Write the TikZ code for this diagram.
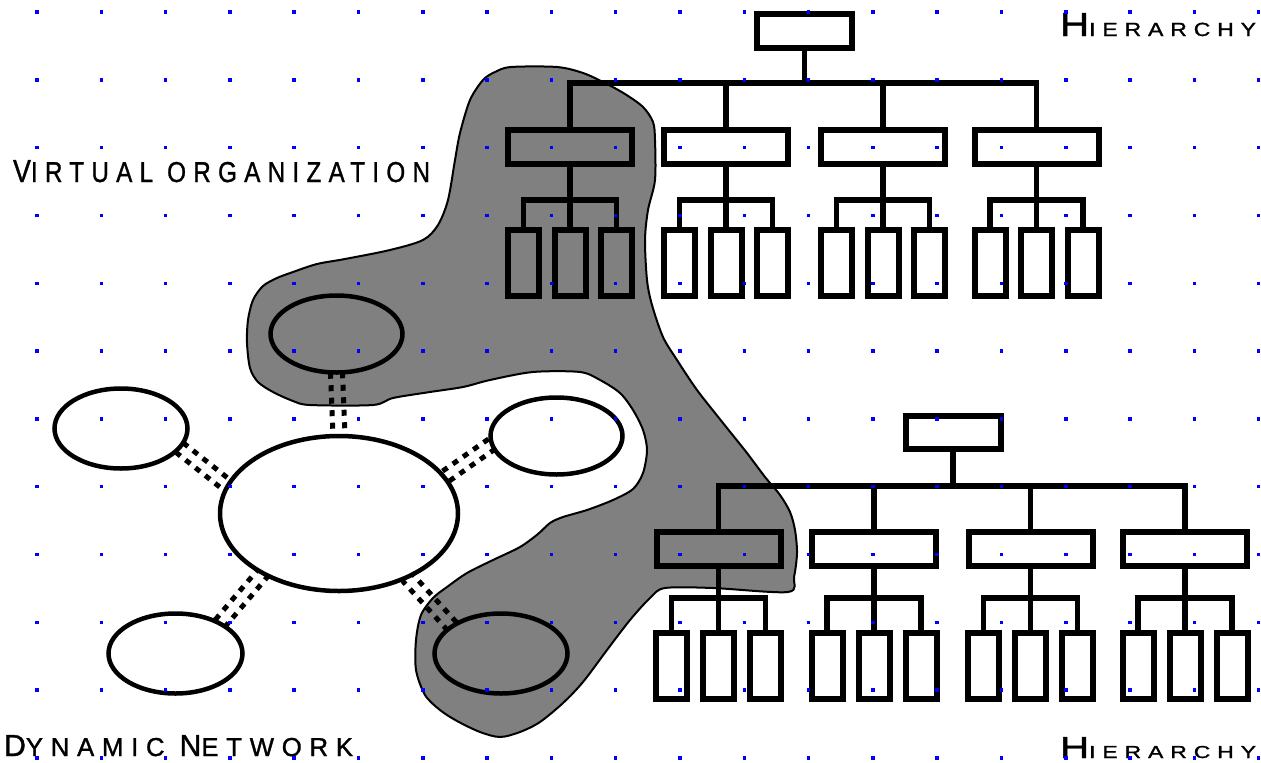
\documentclass[tikz,border=0pt]{standalone}
\usepackage{fontspec}
\setmainfont{Liberation Sans}
\newfontfamily\lblfont[LetterSpace=30,FakeBold=1.2]{Liberation Sans}
\usetikzlibrary{shapes.geometric,calc}
\definecolor{blobgray}{RGB}{128,128,128}
\definecolor{dotblue}{RGB}{0,0,255}
\newcommand\dblconn[2]{%
  \draw[dcon] ($(#1)!6pt!90:(#2)$) -- ($(#2)!6pt!-90:(#1)$);
  \draw[dcon] ($(#1)!6pt!-90:(#2)$) -- ($(#2)!6pt!90:(#1)$);}
\newcommand\szA{\fontsize{20}{20}\selectfont}
\tikzset{
  box/.style={draw, line width=6pt, rectangle, inner sep=0pt, outer sep=0pt},
  topbox/.style={box, minimum width=95pt, minimum height=34pt},
  midbox/.style={box, minimum width=124pt, minimum height=34pt},
  leafbox/.style={box, minimum width=31pt, minimum height=66pt},
  edge/.style={line width=5.5pt, line join=miter},
  ell/.style={ellipse, draw, line width=4.5pt, inner sep=0pt, outer sep=0pt},
  dcon/.style={line width=5pt, dash pattern=on 6pt off 6.5pt},
  blob/.style={fill=blobgray, draw=black, line width=2pt},
  lbl/.style={inner sep=0pt, outer sep=0pt, anchor=base west}
}
\begin{document}
\begin{tikzpicture}[x=1pt, y=-1pt]
\useasboundingbox (0,0) rectangle (1261,763);
\fill[white] (0,0) rectangle (1261,763);

% grey blob (virtual organization)
\draw[blob] plot[smooth cycle, tension=0.5] coordinates {
 (511,67) (557,67) (583,73) (605,83) (625,94) (643,107) (653,122) (655,140)
 (655,180) (648,210) (645,240) (647,280) (652,305) (663,337) (677,360)
 (697,390) (723,423) (747,453) (765,477) (780,495) (790,512) (795,530)
 (797,553) (794,577) (788,592) (713,588) (665,588) (650,598) (630,620)
 (607,650) (583,682) (563,703) (540,722) (520,732) (500,737) (480,732)
 (457,721) (440,710) (425,695) (416,670) (416,640) (421,615) (433,598)
 (447,587) (467,573) (493,560) (520,547) (538,534) (550,523) (563,517)
 (587,510) (613,500) (633,489) (643,473) (647,450) (643,430) (633,410)
 (620,393) (600,380) (580,372) (533,372) (490,380) (463,387) (430,392)
 (393,398) (373,405) (310,405) (293,401) (273,392) (258,382) (250,368)
 (247,343) (248,320) (253,300) (263,286) (277,278) (293,272) (317,264)
 (345,259) (390,250) (423,240) (438,225) (448,200) (455,160) (460,133)
 (470,100) (483,80) (495,72)};

% dynamic network
\node[ell, minimum width=132pt, minimum height=77pt] (E1) at (336.5,334) {};
\node[ell, minimum width=133pt, minimum height=80pt] (E2) at (121,428.5) {};
\node[ell, minimum width=238pt, minimum height=155pt] (C) at (339,513.5) {};
\node[ell, minimum width=132pt, minimum height=77pt] (E3) at (556.5,436) {};
\node[ell, minimum width=134pt, minimum height=80pt] (E5) at (175.5,653.5) {};
\node[ell, minimum width=133pt, minimum height=80pt] (E6) at (501,653.5) {};
\dblconn{E1.south}{C.north}
\dblconn{E2.342}{C.166}
\dblconn{E5.34}{C.218}
\dblconn{E3.187}{C.19}
\dblconn{E6.151}{C.317}

% top hierarchy
\node[topbox] (T1) at (804.5,31) {};
\coordinate (bar1) at (806,83);
\foreach \g/\x in {1/570,2/726,3/883,4/1036.5} {
  \node[midbox] (A\g) at (\x,147) {};
  \node[leafbox] (A\g-1) at (\x-46.5,263) {};
  \node[leafbox] (A\g-2) at (\x,263) {};
  \node[leafbox] (A\g-3) at (\x+46.5,263) {};
  \coordinate (sa\g) at (\x,200);
  \draw[edge] (A\g.south) -- (A\g-2.north);
  \draw[edge] (A\g-1.north) |- (sa\g) -| (A\g-3.north);
}
\draw[edge] (T1.south) -- (T1.south |- bar1);
\draw[edge] (A1.north) |- (bar1) -| (A4.north);
\draw[edge] (A2.north) -- (A2.north |- bar1);
\draw[edge] (A3.north) -- (A3.north |- bar1);

% bottom hierarchy
\node[topbox, minimum height=33pt] (T2) at (953,432.5) {};
\coordinate (bar2) at (955,486);
\foreach \g/\x in {1/718.5,2/874,3/1030.5,4/1185} {
  \node[midbox] (B\g) at (\x,548.5) {};
  \node[leafbox] (B\g-1) at (\x-47,665.5) {};
  \node[leafbox] (B\g-2) at (\x,665.5) {};
  \node[leafbox] (B\g-3) at (\x+47,665.5) {};
  \coordinate (sb\g) at (\x,598);
  \draw[edge] (B\g.south) -- (B\g-2.north);
  \draw[edge] (B\g-1.north) |- (sb\g) -| (B\g-3.north);
}
\draw[edge] (T2.south) -- (T2.south |- bar2);
\draw[edge] (B1.north) |- (bar2) -| (B4.north);
\draw[edge] (B2.north) -- (B2.north |- bar2);
\draw[edge] (B3.north) -- (B3.north |- bar2);

% labels
\node[lbl] (vo) at (13,182) {\resizebox{417pt}{22pt}{\lblfont\szA V\fontsize{18}{18}\selectfont IRTUAL ORGANIZATION}};
\node[lbl] (h1) at (1060,36) {\resizebox{196pt}{23pt}{\lblfont\szA H\fontsize{11.4}{12}\selectfont IERARCHY}};
\node[lbl] (h2) at (1060,758) {\resizebox{196pt}{21pt}{\lblfont\szA H\fontsize{11.4}{12}\selectfont IERARCHY}};
\node[lbl] (dn) at (4,756) {\resizebox{349pt}{21pt}{\lblfont\szA D\fontsize{17}{17}\selectfont YNAMIC \szA N\fontsize{17}{17}\selectfont ETWORK}};

% grid dots
\foreach \i in {0,...,19} {
  \foreach \j in {0,...,11} {
    \fill[dotblue] ({37+64.3*\i-1.75},{12+67.82*\j-1.75}) rectangle ++(3.5,3.5);
  }
}
\end{tikzpicture}
\end{document}
